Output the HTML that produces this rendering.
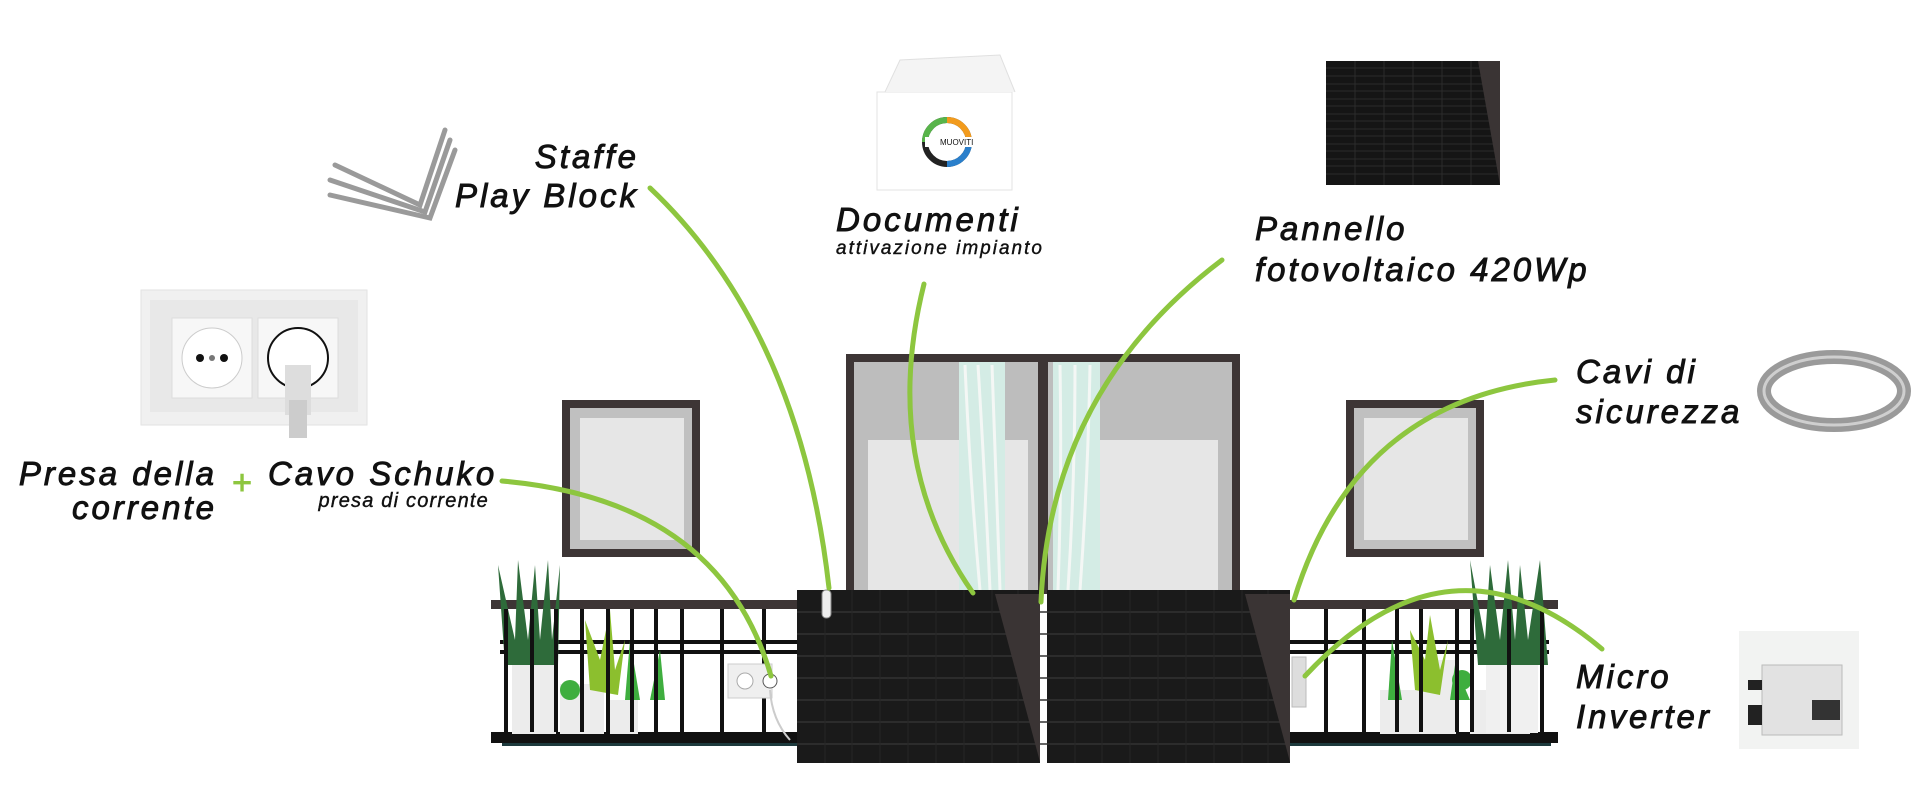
<!DOCTYPE html>
<html><head><meta charset="utf-8"><style>
html,body{margin:0;padding:0;background:#fff;width:1920px;height:811px;overflow:hidden}
svg{display:block}
text{font-family:"Liberation Sans",sans-serif;font-style:italic;fill:#111;stroke:#111;stroke-width:0.9px}
.L{font-size:33px;letter-spacing:3px}
.s{stroke-width:0.4px}
</style></head><body>
<svg width="1920" height="811" viewBox="0 0 1920 811" xmlns="http://www.w3.org/2000/svg">
<rect x="562" y="400" width="138" height="157" fill="#3d3535"/>
<rect x="570" y="408" width="122" height="141" fill="#c0c0c0"/>
<rect x="580" y="418" width="104" height="122" fill="#e6e6e6"/>
<rect x="1346" y="400" width="138" height="157" fill="#3d3535"/>
<rect x="1354" y="408" width="122" height="141" fill="#c0c0c0"/>
<rect x="1364" y="418" width="104" height="122" fill="#e6e6e6"/>
<rect x="846" y="354" width="394" height="240" fill="#3d3535"/>
<rect x="854" y="362" width="184" height="232" fill="#bdbdbd"/>
<rect x="1048" y="362" width="184" height="232" fill="#bdbdbd"/>
<rect x="868" y="440" width="160" height="154" fill="#e6e6e6"/>
<rect x="1058" y="440" width="160" height="154" fill="#e6e6e6"/>
<rect x="959" y="362" width="46" height="232" fill="#d4ece5"/>
<rect x="1053" y="362" width="47" height="232" fill="#d4ece5"/>
<g stroke="#f4f7f5" stroke-width="3" fill="none">
<path d="M965 365 Q970 480 980 590"/><path d="M978 365 Q985 480 990 590"/><path d="M992 365 Q996 480 1000 590"/>
<path d="M1060 365 Q1062 480 1058 590"/><path d="M1075 365 Q1075 480 1068 590"/><path d="M1090 365 Q1088 480 1080 590"/>
</g>
<rect x="491" y="600" width="306" height="9" fill="#3d3535"/>
<rect x="1289" y="600" width="269" height="9" fill="#3d3535"/>
<g fill="#111">
<rect x="500" y="640" width="297" height="4"/><rect x="500" y="650" width="297" height="4"/>
<rect x="1289" y="640" width="260" height="4"/><rect x="1289" y="650" width="260" height="4"/>
<rect x="491" y="732" width="306" height="11"/><rect x="1289" y="732" width="269" height="11"/>
</g>
<rect x="502" y="743" width="295" height="3" fill="#1d3a3d"/>
<rect x="1289" y="743" width="262" height="3" fill="#1d3a3d"/>
<rect x="512" y="664" width="44" height="70" fill="#ececec"/>
<rect x="560" y="684" width="44" height="50" fill="#ececec"/>
<rect x="610" y="700" width="28" height="34" fill="#ececec"/>
<rect x="1380" y="690" width="40" height="44" fill="#ececec"/>
<rect x="1420" y="660" width="36" height="74" fill="#ececec"/>
<rect x="1470" y="690" width="60" height="44" fill="#ececec"/>
<rect x="1486" y="655" width="52" height="78" fill="#f0f0f0"/>
<g fill="#2e6b3a">
<path d="M505 665 L498 565 L515 640 L518 560 L528 640 L535 565 L540 640 L548 560 L552 640 L560 565 L558 665Z"/>
<path d="M1478 665 L1470 560 L1485 640 L1490 565 L1500 640 L1508 560 L1515 640 L1520 565 L1528 640 L1540 560 L1548 665Z"/>
</g>
<g fill="#8cbf2e">
<path d="M590 690 L585 620 L600 660 L610 610 L615 670 L625 640 L618 695Z"/>
<path d="M1415 690 L1410 630 L1425 660 L1430 615 L1440 670 L1448 640 L1440 695Z"/>
</g>
<g fill="#3fae3f">
<path d="M625 700 L630 640 L640 700Z"/><path d="M650 700 L660 650 L665 700Z"/>
<path d="M1388 700 L1392 640 L1402 700Z"/><path d="M1450 700 L1455 665 L1470 700Z"/>
<circle cx="570" cy="690" r="10"/><circle cx="1462" cy="680" r="10"/>
</g>
<g fill="#111">
<rect x="504" y="609" width="4" height="123"/><rect x="530" y="609" width="4" height="123"/><rect x="554" y="609" width="4" height="123"/><rect x="580" y="609" width="4" height="123"/><rect x="606" y="609" width="4" height="123"/><rect x="630" y="609" width="4" height="123"/><rect x="654" y="609" width="4" height="123"/><rect x="680" y="609" width="4" height="123"/><rect x="720" y="609" width="4" height="123"/><rect x="762" y="609" width="4" height="123"/>
<rect x="1324" y="609" width="4" height="123"/><rect x="1362" y="609" width="4" height="123"/><rect x="1395" y="609" width="4" height="123"/><rect x="1419" y="609" width="4" height="123"/><rect x="1455" y="609" width="4" height="123"/><rect x="1470" y="609" width="4" height="123"/><rect x="1507" y="609" width="4" height="123"/><rect x="1540" y="609" width="4" height="123"/>
</g>
<rect x="728" y="664" width="44" height="34" fill="#efefef" stroke="#ccc"/>
<circle cx="745" cy="681" r="8" fill="#fff" stroke="#aaa"/>
<circle cx="770" cy="681" r="7" fill="#fff" stroke="#555"/>
<path d="M770 690 Q772 720 790 740" stroke="#ccc" stroke-width="2" fill="none"/>
<rect x="1292" y="657" width="14" height="50" fill="#ddd" stroke="#bbb"/>
<rect x="797" y="590" width="243" height="173" fill="#1a1a1a"/>
<rect x="1047" y="590" width="243" height="173" fill="#1a1a1a"/>
<g stroke="#333" stroke-width="1.5">
<path d="M797 612H1290M797 634H1290M797 656H1290M797 678H1290M797 700H1290M797 722H1290M797 744H1290"/>
</g>
<g stroke="#262626" stroke-width="1">
<path d="M825 590V763M852 590V763M880 590V763M908 590V763M936 590V763M964 590V763M992 590V763M1018 590V763M1075 590V763M1102 590V763M1130 590V763M1158 590V763M1186 590V763M1214 590V763M1242 590V763M1268 590V763"/>
</g>
<path d="M995 594 L1040 594 L1040 762Z" fill="#3a3434"/>
<path d="M1245 594 L1290 594 L1290 762Z" fill="#3a3434"/>
<rect x="822" y="590" width="9" height="28" rx="4" fill="#eee" stroke="#888"/>
<g stroke="#9a9a9a" stroke-width="5" fill="none" stroke-linecap="round">
<path d="M445 130 L420 205 L335 165"/><path d="M450 140 L425 212 L330 180"/><path d="M455 150 L430 218 L330 195"/>
</g>
<g>
<rect x="877" y="92" width="135" height="98" fill="#fff" stroke="#e3e3e3"/>
<path d="M885 92 L900 60 L1000 55 L1015 92" fill="#f4f4f4" stroke="#e0e0e0"/>
<circle cx="947" cy="142" r="22" fill="none" stroke="#222" stroke-width="6"/>
<path d="M947 120 A22 22 0 0 1 969 142" stroke="#f29b1d" stroke-width="6" fill="none"/>
<path d="M969 142 A22 22 0 0 1 947 164" stroke="#2a7fcb" stroke-width="6" fill="none"/>
<path d="M925 142 A22 22 0 0 1 947 120" stroke="#58b44a" stroke-width="6" fill="none"/>
<rect x="925" y="137" width="50" height="10" fill="#fff"/>
<text x="940" y="145" font-size="8" style="font-style:normal;stroke-width:0">MUOVITI</text>
</g>
<rect x="1326" y="61" width="174" height="124" fill="#151515"/>
<g stroke="#2b2b2b" stroke-width="1"><path d="M1326 68H1500M1326 76H1500M1326 84H1500M1326 91H1500M1326 99H1500M1326 106H1500M1326 114H1500M1326 121H1500M1326 129H1500M1326 136H1500M1326 144H1500M1326 151H1500M1326 159H1500M1326 166H1500M1326 174H1500M1355 61V185M1384 61V185M1413 61V185M1442 61V185M1471 61V185"/></g>
<path d="M1478 61 H1500 V185 Z" fill="#3a3434"/>
<rect x="141" y="290" width="226" height="135" fill="#f0f0f0" stroke="#e2e2e2"/>
<rect x="150" y="300" width="208" height="112" fill="#e8e8e8"/>
<rect x="172" y="318" width="80" height="80" fill="#f7f7f7" stroke="#ddd"/>
<rect x="258" y="318" width="80" height="80" fill="#f7f7f7" stroke="#ddd"/>
<circle cx="212" cy="358" r="30" fill="#fff" stroke="#ccc"/>
<circle cx="200" cy="358" r="4" fill="#111"/><circle cx="224" cy="358" r="4" fill="#111"/><circle cx="212" cy="358" r="3" fill="#777"/>
<circle cx="298" cy="358" r="30" fill="#fff" stroke="#111" stroke-width="2"/>
<rect x="285" y="365" width="26" height="50" fill="#ddd"/><rect x="289" y="400" width="18" height="38" fill="#ccc"/>
<ellipse cx="1834" cy="391" rx="70" ry="34" fill="none" stroke="#9a9a9a" stroke-width="14"/>
<ellipse cx="1834" cy="391" rx="70" ry="34" fill="none" stroke="#cfcfcf" stroke-width="3"/>
<rect x="1739" y="631" width="120" height="118" fill="#f2f3f2"/>
<rect x="1762" y="665" width="80" height="70" fill="#e2e2e2" stroke="#bbb"/>
<rect x="1812" y="700" width="28" height="20" fill="#333"/>
<rect x="1748" y="680" width="14" height="10" fill="#222"/><rect x="1748" y="705" width="14" height="20" fill="#222"/>
<g stroke="#8dc63f" stroke-width="5" fill="none" stroke-linecap="round">
<path d="M650 188 Q800 330 829 588"/>
<path d="M924 284 Q880 460 973 593"/>
<path d="M1222 260 Q1050 390 1041 602"/>
<path d="M1555 380 Q1355 400 1294 600"/>
<path d="M502 481 Q720 500 771 676"/>
<path d="M1602 649 Q1450 520 1305 676"/>
</g>
<text x="639" y="168" class="L" text-anchor="end">Staffe</text>
<text x="639" y="207" class="L" text-anchor="end">Play Block</text>
<text x="836" y="231" class="L">Documenti</text>
<text x="836" y="254" font-size="19" letter-spacing="2" class="s">attivazione impianto</text>
<text x="1255" y="240" class="L">Pannello</text>
<text x="1255" y="281" class="L">fotovoltaico 420Wp</text>
<text x="1576" y="383" class="L">Cavi di</text>
<text x="1576" y="423" class="L">sicurezza</text>
<text x="217" y="485" class="L" text-anchor="end">Presa della</text>
<text x="217" y="519" class="L" text-anchor="end">corrente</text>
<text x="242" y="494" font-size="34" style="fill:#8dc63f;stroke:#8dc63f;font-style:normal" text-anchor="middle">+</text>
<text x="268" y="485" class="L">Cavo Schuko</text>
<text x="489" y="507" font-size="20" letter-spacing="1.2" text-anchor="end" class="s">presa di corrente</text>
<text x="1576" y="688" class="L">Micro</text>
<text x="1576" y="728" class="L">Inverter</text>
</svg>
</body></html>
